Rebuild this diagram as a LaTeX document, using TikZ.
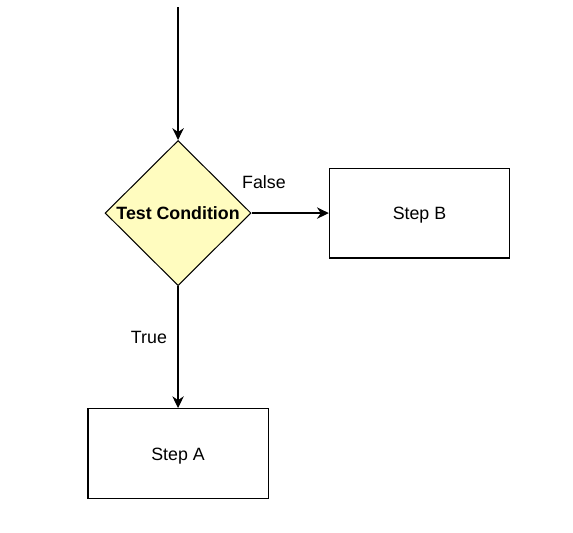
\documentclass[tikz,border=0pt]{standalone}
\usepackage{fontspec}
\setmainfont{Liberation Sans}
\usetikzlibrary{arrows.meta,positioning,shapes.geometric}

\begin{document}
\begin{tikzpicture}[
    node distance=1.83cm,
    every node/.style={font=\fontsize{12}{14}\selectfont},
    decision/.style={draw, line width=0.7pt, diamond, aspect=1, inner sep=0pt, minimum width=3.46cm, minimum height=3.44cm, fill=yellow!25, font=\fontsize{12}{14}\selectfont\bfseries},
    stepbox/.style={draw, line width=0.8pt, align=center, minimum width=4.27cm, minimum height=2.13cm, text height=11.3pt, text depth=2.5pt},
    flow/.style={-{Stealth[length=2.8mm, width=2.7mm]}, line width=0.8pt},
    branch/.style={font=\fontsize{12}{14}\selectfont}
]
\useasboundingbox (0,0) rectangle (13.58,-12.61);
\node[decision] (test) at (4.22,-5.05) {Test Condition};
\node[stepbox, right=of test] (stepB) {Step B};
\node[stepbox, below=2.89cm of test] (stepA) {Step A};
\coordinate[above=3.15cm of test.north] (entry);
\draw[flow] (entry) -- (test.north);
\draw[flow] (test.east) -- node[branch, pos=0.16, yshift=0.73cm] {False} (stepB.west);
\draw[flow] (test.south) -- node[branch, pos=0.42, xshift=-0.69cm] {True} (stepA.north);
\end{tikzpicture}
\end{document}
